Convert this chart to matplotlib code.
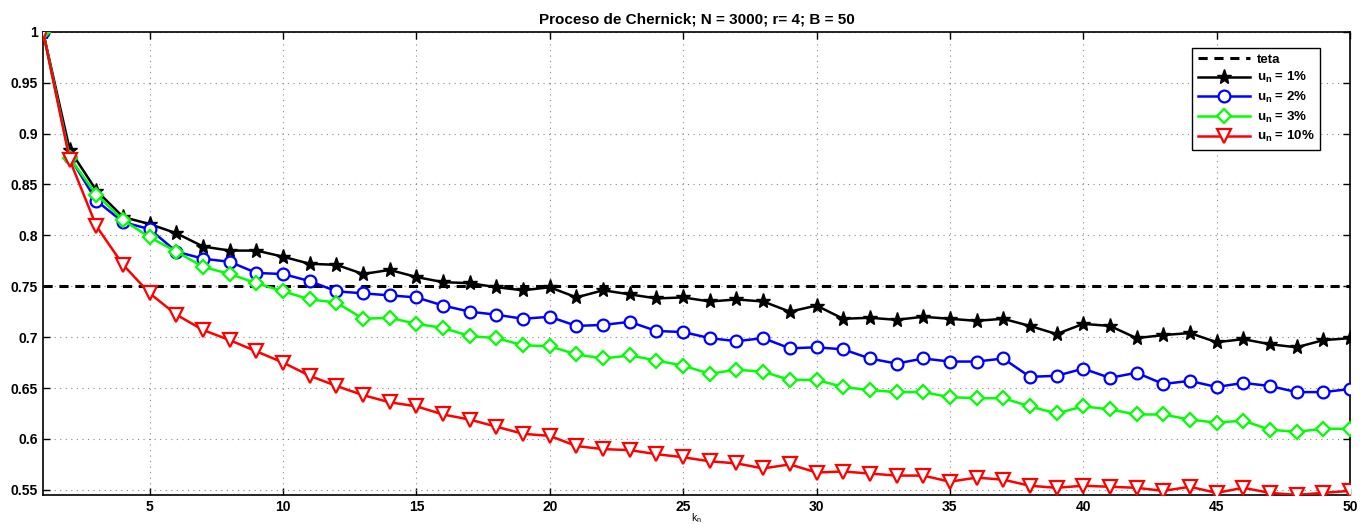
import matplotlib
matplotlib.use("Agg")
import matplotlib.pyplot as plt
import numpy as np

k = list(range(1, 51))
teta = 0.75

u1 = [1.0, 0.884, 0.844, 0.818, 0.811, 0.802, 0.789, 0.785, 0.785, 0.779,
      0.772, 0.771, 0.762, 0.766, 0.759, 0.754, 0.753, 0.749, 0.746, 0.749,
      0.739, 0.746, 0.742, 0.738, 0.739, 0.735, 0.737, 0.735, 0.725, 0.731,
      0.718, 0.719, 0.717, 0.720, 0.718, 0.716, 0.718, 0.711, 0.703, 0.713,
      0.711, 0.699, 0.702, 0.704, 0.695, 0.698, 0.693, 0.690, 0.697, 0.699]
u2 = [1.0, 0.877, 0.834, 0.813, 0.806, 0.784, 0.777, 0.774, 0.763, 0.762,
      0.755, 0.745, 0.743, 0.741, 0.739, 0.731, 0.725, 0.722, 0.718, 0.720,
      0.711, 0.712, 0.715, 0.706, 0.705, 0.699, 0.696, 0.699, 0.689, 0.690,
      0.688, 0.679, 0.674, 0.679, 0.676, 0.676, 0.679, 0.661, 0.662, 0.669,
      0.660, 0.665, 0.654, 0.657, 0.651, 0.655, 0.652, 0.646, 0.646, 0.649]
u3 = [1.0, 0.876, 0.840, 0.815, 0.798, 0.784, 0.769, 0.762, 0.753, 0.745,
      0.737, 0.734, 0.718, 0.719, 0.713, 0.709, 0.701, 0.699, 0.692, 0.691,
      0.683, 0.679, 0.682, 0.677, 0.672, 0.664, 0.668, 0.666, 0.658, 0.658,
      0.651, 0.648, 0.646, 0.646, 0.641, 0.640, 0.640, 0.632, 0.625, 0.632,
      0.629, 0.624, 0.624, 0.619, 0.616, 0.618, 0.609, 0.607, 0.610, 0.610]
u10 = [1.0, 0.874, 0.809, 0.771, 0.743, 0.722, 0.707, 0.697, 0.686, 0.675,
       0.662, 0.652, 0.643, 0.636, 0.632, 0.624, 0.619, 0.612, 0.605, 0.603,
       0.593, 0.590, 0.589, 0.585, 0.582, 0.578, 0.576, 0.571, 0.575, 0.567,
       0.568, 0.566, 0.564, 0.564, 0.558, 0.562, 0.560, 0.554, 0.552, 0.554,
       0.553, 0.552, 0.549, 0.553, 0.547, 0.552, 0.547, 0.545, 0.547, 0.549]

xticks = [5, 10, 15, 20, 25, 30, 35, 40, 45, 50]
yticks = [0.55, 0.6, 0.65, 0.7, 0.75, 0.8, 0.85, 0.9, 0.95, 1.0]
yticklabels = ["0.55", "0.6", "0.65", "0.7", "0.75", "0.8", "0.85", "0.9", "0.95", "1"]

plt.rcParams['font.family'] = ['Liberation Sans', 'DejaVu Sans']
plt.rcParams['mathtext.fontset'] = 'custom'
plt.rcParams['mathtext.rm'] = 'Liberation Sans:bold'
plt.rcParams['mathtext.it'] = 'Liberation Sans:bold'
plt.rcParams['mathtext.bf'] = 'Liberation Sans:bold'

fig = plt.figure(figsize=(13.67, 5.24), dpi=100)
ax = fig.add_axes([0.0315, 0.0555, 0.956, 0.884])

ax.plot(k, [teta] * len(k), color='black', lw=2.2, ls=(0, (3, 2.2)), label='teta', zorder=3)
ax.plot(k, u1, color='black', lw=1.8, marker='*', ms=11, mfc='black', mec='black',
        mew=1.0, label=r'u$_\mathregular{n}$ = 1%', zorder=4)
ax.plot(k, u2, color='blue', lw=1.8, marker='o', ms=8.5, mfc='white', mec='blue',
        mew=1.6, label=r'u$_\mathregular{n}$ = 2%', zorder=4)
ax.plot(k, u3, color=(0, 1, 0), lw=1.8, marker='D', ms=7.5, mfc='white', mec=(0, 1, 0),
        mew=1.6, label=r'u$_\mathregular{n}$ = 3%', zorder=4)
ax.plot(k, u10, color='red', lw=1.8, marker='v', ms=10.5, mfc='white', mec='red',
        mew=1.6, label=r'u$_\mathregular{n}$ = 10%', zorder=4)

ax.set_xlim(1, 50)
ax.set_ylim(0.545, 1.0)
ax.set_xticks(xticks)
ax.set_yticks(yticks)
ax.set_yticklabels(yticklabels)
for lab in ax.get_xticklabels() + ax.get_yticklabels():
    lab.set_fontweight('bold')
    lab.set_fontsize(10)
ax.tick_params(direction='in', length=5, width=1, top=True, right=True, pad=4)
ax.grid(True, ls=(0, (1, 4)), color='#888888', lw=0.8)
for s in ax.spines.values():
    s.set_linewidth(1.2)

ax.set_title('Proceso de Chernick; N = 3000; r= 4; B = 50', fontweight='bold', fontsize=11, pad=6)
ax.set_xlabel(r'k$_\mathregular{n}$', fontsize=7.5, labelpad=-2)
ax.xaxis.label.set_fontweight('normal')

leg = ax.legend(loc='upper right', bbox_to_anchor=(0.982, 0.979), handlelength=4.0,
                fancybox=False, framealpha=1, edgecolor='black',
                prop={'weight': 'bold', 'size': 9.5}, borderpad=0.4, labelspacing=0.35,
                handletextpad=0.5)
leg.get_frame().set_linewidth(1.0)

fig.savefig('out.png', dpi=100)
